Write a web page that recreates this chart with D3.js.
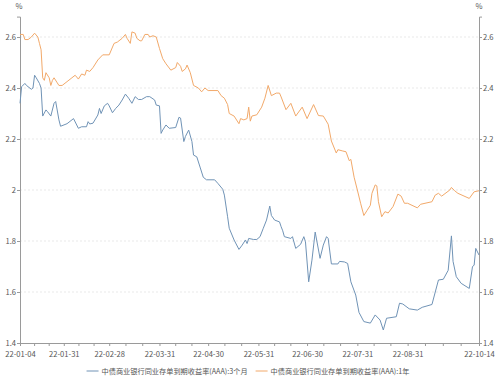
<!DOCTYPE html>
<html><head><meta charset="utf-8">
<script src="https://cdn.jsdelivr.net/npm/d3@7"></script>
<style>
html,body{margin:0;padding:0;background:#fff;}
svg{display:block;font-family:"Noto Sans CJK SC","Noto Sans",sans-serif;}
</style></head>
<body><svg id="c" width="500" height="377"></svg>
<script>
const seriesNames = ["中债商业银行同业存单到期收益率(AAA):3个月","中债商业银行同业存单到期收益率(AAA):1年"];
const seriesColors = ["#7093b6","#f2a96a"];
const yTicks = [1.4,1.6,1.8,2,2.2,2.4,2.6];
const xTickLabels = ["22-01-04","22-01-31","22-02-28","22-03-31","22-04-30","22-05-31","22-06-30","22-07-31","22-08-31","22-10-14"];
const unitLabel = "%";

const dates3M = ["22-01-04","22-01-05","22-01-07","22-01-08","22-01-11","22-01-12","22-01-13","22-01-14","22-01-16","22-01-17","22-01-18","22-01-20","22-01-21","22-01-23","22-01-25","22-01-26","22-01-28","22-01-29",
"22-02-02","22-02-06","22-02-09","22-02-11","22-02-14","22-02-15","22-02-16","22-02-18","22-02-21","22-02-22","22-02-23","22-02-25","22-02-27","22-02-28",
"22-03-02","22-03-04","22-03-06","22-03-08","22-03-10","22-03-12","22-03-14","22-03-16","22-03-18","22-03-20","22-03-23","22-03-25","22-03-28","22-03-29","22-03-31",
"22-04-01","22-04-02","22-04-04","22-04-06","22-04-10","22-04-12","22-04-13","22-04-15","22-04-16","22-04-18","22-04-20","22-04-21","22-04-23","22-04-25","22-04-27","22-04-29",
"22-05-04","22-05-06","22-05-09","22-05-10","22-05-12","22-05-13","22-05-16","22-05-19","22-05-21","22-05-23","22-05-24","22-05-25","22-05-28","22-05-30",
"22-06-01","22-06-03","22-06-05","22-06-07","22-06-08","22-06-10","22-06-13","22-06-14","22-06-15","22-06-16","22-06-20","22-06-21","22-06-23","22-06-26","22-06-28","22-06-29",
"22-07-01","22-07-03","22-07-05","22-07-08","22-07-10","22-07-12","22-07-13","22-07-15","22-07-19","22-07-20","22-07-23","22-07-25","22-07-27","22-07-30",
"22-08-01","22-08-04","22-08-08","22-08-11","22-08-14","22-08-16","22-08-18","22-08-24","22-08-26","22-08-28",
"22-09-01","22-09-06","22-09-09","22-09-15","22-09-19","22-09-22","22-09-25","22-09-27","22-09-28","22-09-30",
"22-10-03","22-10-08","22-10-10","22-10-11","22-10-12","22-10-14"];
const values3M = [2.34,2.405,2.418,2.41,2.395,2.40,2.45,2.44,2.418,2.40,2.29,2.314,2.307,2.29,2.34,2.347,2.275,2.25,
2.26,2.28,2.242,2.248,2.248,2.268,2.259,2.262,2.294,2.32,2.30,2.33,2.34,2.33,
2.303,2.32,2.333,2.353,2.376,2.36,2.34,2.366,2.355,2.355,2.366,2.366,2.353,2.333,2.33,
2.222,2.235,2.255,2.242,2.245,2.285,2.282,2.19,2.21,2.235,2.19,2.137,2.13,2.09,2.05,2.04,
2.04,2.026,2.003,1.98,1.895,1.85,1.804,1.767,1.784,1.804,1.79,1.81,1.806,1.806,
1.817,1.85,1.882,1.937,1.90,1.882,1.875,1.856,1.84,1.817,1.81,1.817,1.771,1.787,1.817,1.797,
1.64,1.725,1.835,1.732,1.784,1.817,1.81,1.71,1.71,1.72,1.718,1.712,1.64,1.588,
1.52,1.484,1.478,1.51,1.49,1.451,1.497,1.503,1.556,1.553,
1.534,1.529,1.54,1.551,1.647,1.65,1.685,1.82,1.72,1.66,
1.634,1.614,1.70,1.705,1.771,1.745];

const dates1Y = ["22-01-04","22-01-06","22-01-07","22-01-09","22-01-11","22-01-13","22-01-15","22-01-16","22-01-17","22-01-18","22-01-19","22-01-20","22-01-22","22-01-23","22-01-24","22-01-25","22-01-27","22-01-28","22-01-30",
"22-02-02","22-02-05","22-02-07","22-02-09","22-02-11","22-02-13","22-02-14","22-02-16","22-02-18","22-02-21","22-02-24","22-02-28",
"22-03-03","22-03-05","22-03-08","22-03-10","22-03-11","22-03-13","22-03-14","22-03-16","22-03-17","22-03-19","22-03-20","22-03-22","22-03-24","22-03-25","22-03-27","22-03-29","22-03-31",
"22-04-02","22-04-04","22-04-07","22-04-10","22-04-11","22-04-13","22-04-14","22-04-16","22-04-17","22-04-19","22-04-21","22-04-24","22-04-26","22-04-28","22-04-30",
"22-05-03","22-05-06","22-05-08","22-05-10","22-05-12","22-05-13","22-05-16","22-05-19","22-05-20","22-05-22","22-05-24","22-05-25","22-05-26","22-05-27","22-05-30",
"22-06-02","22-06-04","22-06-06","22-06-08","22-06-11","22-06-13","22-06-14","22-06-17","22-06-20","22-06-23","22-06-27","22-06-30",
"22-07-04","22-07-07","22-07-10","22-07-13","22-07-15","22-07-18","22-07-19","22-07-22","22-07-24","22-07-26","22-07-27","22-07-29","22-07-31",
"22-08-02","22-08-04","22-08-06","22-08-08","22-08-09","22-08-11","22-08-12","22-08-13","22-08-15","22-08-17","22-08-19","22-08-22","22-08-25","22-08-27","22-08-29","22-08-31",
"22-09-06","22-09-08","22-09-15","22-09-17","22-09-19","22-09-21","22-09-26","22-09-27","22-09-29",
"22-10-01","22-10-08","22-10-11","22-10-14"];
const values1Y = [2.61,2.61,2.59,2.59,2.60,2.615,2.60,2.575,2.55,2.44,2.43,2.46,2.44,2.41,2.43,2.44,2.42,2.41,2.41,
2.425,2.44,2.45,2.435,2.455,2.45,2.47,2.465,2.48,2.51,2.53,2.53,
2.575,2.58,2.595,2.61,2.595,2.575,2.62,2.615,2.595,2.585,2.585,2.61,2.61,2.60,2.605,2.60,2.555,
2.515,2.495,2.47,2.48,2.50,2.485,2.465,2.475,2.49,2.46,2.41,2.40,2.385,2.40,2.39,
2.39,2.39,2.37,2.36,2.335,2.30,2.29,2.26,2.28,2.275,2.28,2.325,2.27,2.29,2.295,
2.325,2.36,2.41,2.37,2.38,2.38,2.365,2.315,2.34,2.29,2.325,2.28,
2.335,2.292,2.29,2.258,2.192,2.145,2.158,2.153,2.15,2.115,2.12,2.05,2.00,
1.948,1.90,1.92,1.94,1.987,2.02,2.016,1.954,1.895,1.915,1.91,1.935,1.984,1.976,1.948,1.948,
1.93,1.944,1.954,1.98,1.987,1.976,2.00,2.01,1.997,
1.987,1.967,1.993,1.997];

const parse = d3.timeParse("%y-%m-%d");
const svg = d3.select("#c");
const W = 500, H = 377;
const m = {left:20, right:21, top:16.6, bottom:34};
const x = d3.scaleTime()
  .domain([parse(xTickLabels[0]), parse(xTickLabels[xTickLabels.length-1])])
  .range([m.left, W - m.right]);
const y = d3.scaleLinear().domain([1.4, 2.68]).range([H - m.bottom, m.top]);

const axisColor = "#9a9a9a", textColor = "#555";
const fs = 7.6;
const ff = '"Noto Sans CJK SC","Noto Sans",sans-serif';

// gridlines
svg.append("g").selectAll("line").data(yTicks.filter(v=>v>1.4)).join("line")
  .attr("x1", m.left).attr("x2", W - m.right)
  .attr("y1", d=>y(d)).attr("y2", d=>y(d))
  .attr("stroke", "#e3e3e3").attr("stroke-width", 0.8).attr("stroke-dasharray", "2,2");

// y axes
const yl = svg.append("g").attr("transform", `translate(${m.left},0)`)
  .call(d3.axisLeft(y).tickValues(yTicks).tickFormat(d3.format("~g")).tickSize(3).tickPadding(1));
const yr = svg.append("g").attr("transform", `translate(${W - m.right},0)`)
  .call(d3.axisRight(y).tickValues(yTicks).tickFormat(d3.format("~g")).tickSize(3).tickPadding(1));
[yl, yr].forEach(g => {
  g.select(".domain").attr("stroke", axisColor).attr("stroke-width", 1);
  g.selectAll(".tick line").attr("stroke", axisColor);
  g.selectAll(".tick text").attr("fill", textColor).style("font-size", fs + "px").style("font-family", ff);
});

// x axis major + minor ticks
const labDates = xTickLabels.map(parse);
const minor = [];
for (let i = 0; i < labDates.length - 1; i++) {
  const a = +labDates[i], b = +labDates[i+1];
  const n = (i === labDates.length - 2) ? 4 : 3;
  for (let k = 1; k < n; k++) minor.push(new Date(a + (b - a) * k / n));
}
const xa = svg.append("g").attr("transform", `translate(0,${H - m.bottom})`)
  .call(d3.axisBottom(x).tickValues(labDates).tickFormat(d3.timeFormat("%y-%m-%d")).tickSize(3).tickPadding(6));
xa.select(".domain").attr("stroke", axisColor).attr("stroke-width", 1);
xa.selectAll(".tick line").attr("stroke", axisColor);
xa.selectAll(".tick text").attr("fill", textColor).style("font-size", fs + "px").style("font-family", ff);
svg.append("g").selectAll("line").data(minor).join("line")
  .attr("x1", d=>x(d)).attr("x2", d=>x(d))
  .attr("y1", H - m.bottom).attr("y2", H - m.bottom + 3)
  .attr("stroke", axisColor);

// unit labels
svg.append("text").attr("x", m.left - 1).attr("y", 9).attr("text-anchor", "middle")
  .attr("fill", textColor).style("font-size", fs + "px").text(unitLabel);
svg.append("text").attr("x", W - m.right).attr("y", 9).attr("text-anchor", "middle")
  .attr("fill", textColor).style("font-size", fs + "px").text(unitLabel);

// lines
const line = d3.line().x(d=>x(d.date)).y(d=>y(d.value));
const build = (ds, vs) => ds.slice(0, Math.min(ds.length, vs.length)).map((d,i)=>({date: parse(d), value: vs[i]}));
const series = [build(dates3M, values3M), build(dates1Y, values1Y)];
series.forEach((s, i) => {
  svg.append("path").datum(s).attr("d", line)
    .attr("fill", "none").attr("stroke", seriesColors[i]).attr("stroke-width", 1)
    .attr("stroke-linejoin", "round");
});

// legend
const lg = svg.append("g");
const ly = 371;
let cx = 0;
seriesNames.forEach((name, i) => {
  const g = lg.append("g").attr("transform", `translate(${cx},0)`);
  g.append("line").attr("x1", 0).attr("x2", 12).attr("y1", ly).attr("y2", ly)
    .attr("stroke", seriesColors[i]).attr("stroke-width", 1);
  const t = g.append("text").attr("x", 15).attr("y", ly).attr("dy", "0.35em")
    .attr("fill", textColor).style("font-size", "7.2px").text(name);
  const w = t.node().getComputedTextLength();
  cx += 15 + w + 8;
});
const totalW = cx - 8;
lg.attr("transform", `translate(${248 - totalW/2},0)`);
</script></body></html>
